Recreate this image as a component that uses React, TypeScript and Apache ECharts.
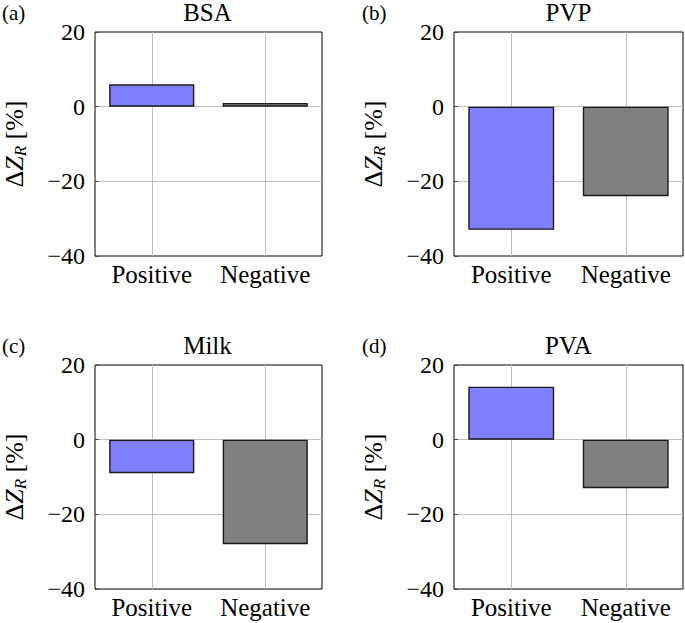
import React, { useEffect, useRef } from 'react';
import * as echarts from 'echarts';

const categories = ['Positive', 'Negative'];
const panelTags = ['(a)', '(b)', '(c)', '(d)'];
const panelTitles = ['BSA', 'PVP', 'Milk', 'PVA'];
const bsaValues = [6, 1];
const pvpValues = [-33, -24];
const milkValues = [-9, -28];
const pvaValues = [14.2, -13];
const yMin = -40;
const yMax = 20;
const yStep = 20;
const barColors = ['#8080ff', '#808080'];

const FONT = 'Liberation Serif';

export default function App() {
  const ref = useRef<HTMLDivElement>(null);
  useEffect(() => {
    if (!ref.current) return;
    const chart = echarts.init(ref.current, undefined, { renderer: 'svg' });
    const seriesValues = [bsaValues, pvpValues, milkValues, pvaValues];
    const lefts = [93, 454, 93, 454];
    const tops = [32, 32, 365, 365];
    const W = 229;
    const H = 224;

    const grid = lefts.map((l, i) => ({
      left: l,
      top: tops[i],
      width: W,
      height: H,
      show: true,
      borderColor: '#000',
      borderWidth: 1,
      backgroundColor: 'transparent',
      containLabel: false,
    }));

    const xAxis = lefts.map((_, i) => ({
      type: 'category',
      gridIndex: i,
      data: categories,
      axisLine: { show: false, onZero: false },
      axisTick: { show: true, inside: true, alignWithLabel: true, length: 4, lineStyle: { color: '#444' } },
      splitLine: { show: false },
      axisLabel: { fontFamily: FONT, fontSize: 25, color: '#000', margin: 6, interval: 0, hideOverlap: false },
    }));

    const yAxis = lefts.map((_, i) => ({
      type: 'value',
      gridIndex: i,
      min: yMin,
      max: yMax,
      interval: yStep,
      axisLine: { show: false },
      axisTick: { show: true, inside: true, length: 4, lineStyle: { color: '#444' } },
      splitLine: { show: true, showMinLine: false, showMaxLine: false, lineStyle: { color: '#bfbfbf', width: 1 } },
      axisLabel: {
        fontFamily: FONT,
        fontSize: 24,
        color: '#000',
        margin: 10,
        formatter: (v: number) => (v < 0 ? '\u2212' + Math.abs(v) : String(v)),
      },
      name: '{a|\u0394}{i|Z}{s|R}{a| [%]}',
      nameLocation: 'middle',
      nameGap: 66,
      nameTextStyle: {
        fontFamily: FONT,
        rich: {
          a: { fontFamily: FONT, fontSize: 26, color: '#000', lineHeight: 30, verticalAlign: 'middle' },
          i: { fontFamily: FONT, fontSize: 26, fontStyle: 'italic', color: '#000', lineHeight: 30, verticalAlign: 'middle' },
          s: { fontFamily: FONT, fontSize: 17, fontStyle: 'italic', color: '#000', lineHeight: 14, verticalAlign: 'bottom' },
        },
      },
    }));

    const series = seriesValues.map((vals, i) => ({
      type: 'bar',
      xAxisIndex: i,
      yAxisIndex: i,
      barWidth: '75%',
      z: 3,
      data: vals.map((v, j) => ({ value: v, itemStyle: { color: barColors[j] } })),
      itemStyle: { borderColor: '#1a1a1a', borderWidth: 1.4 },
      markLine: {
        silent: true,
        z: 1,
        symbol: 'none',
        label: { show: false },
        lineStyle: { color: '#bfbfbf', type: 'solid', width: 1 },
        data: categories.map((c) => ({ xAxis: c })),
      },
    }));

    const graphic: any[] = [];
    lefts.forEach((l, i) => {
      const tagX = i % 2 === 0 ? 2 : 362;
      graphic.push({
        type: 'text',
        x: tagX,
        y: tops[i] - 19,
        style: {
          text: panelTags[i],
          font: '21px ' + FONT,
          fill: '#000',
          textAlign: 'left',
          align: 'left',
          textVerticalAlign: 'middle',
          verticalAlign: 'middle',
        },
      });
      graphic.push({
        type: 'text',
        x: l + W / 2,
        y: tops[i] - 20,
        style: {
          text: panelTitles[i],
          font: '25px ' + FONT,
          fill: '#000',
          textAlign: 'center',
          align: 'center',
          textVerticalAlign: 'middle',
          verticalAlign: 'middle',
        },
      });
    });

    chart.setOption({
      animation: false,
      backgroundColor: '#fff',
      textStyle: { fontFamily: FONT },
      grid,
      xAxis,
      yAxis,
      series,
      graphic,
    } as any);
    return () => chart.dispose();
  }, []);
  return (
    <div
      ref={ref}
      style={{ position: 'fixed', left: 0, top: 0, width: 685, height: 623 }}
    />
  );
}
